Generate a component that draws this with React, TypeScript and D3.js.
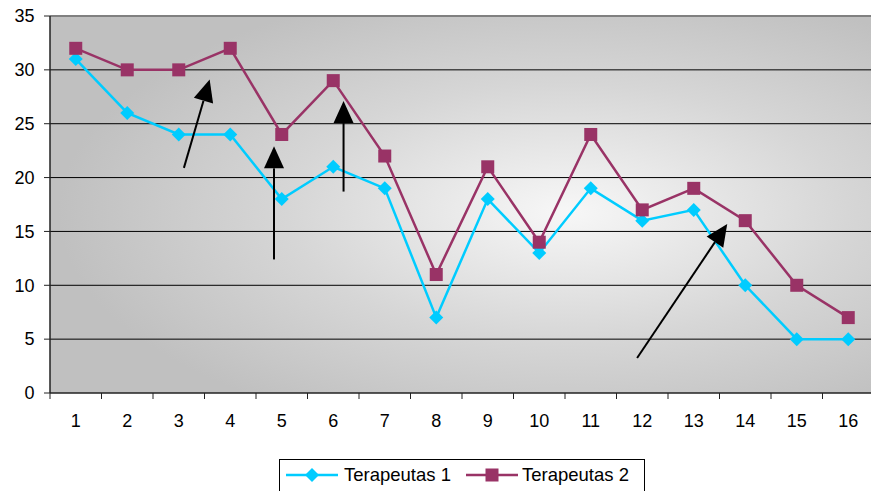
import React from "react";
import * as d3 from "d3";

const categories = ["1","2","3","4","5","6","7","8","9","10","11","12","13","14","15","16"];
const terapeutas1 = [31,26,24,24,18,21,19,7,18,13,19,16,17,10,5,5];
const terapeutas2 = [32,30,30,32,24,29,22,11,21,14,24,17,19,16,10,7];
const yTicks = [0,5,10,15,20,25,30,35];
const seriesNames = ["Terapeutas 1","Terapeutas 2"];
// arrows: [tailCat, tailVal, tipCat, tipVal] in data space (category index fractional, value)
const arrows: [number, number, number, number][] = [
  [2.1, 20.9, 2.6, 29.1],
  [3.85, 12.4, 3.85, 22.9],
  [5.2, 18.7, 5.2, 27.1],
  [10.9, 3.25, 12.65, 15.7],
];

const W = 871, H = 491;
const M = { left: 50, right: 0, top: 16, bottom: 98 };

export default function App() {
  const x = d3.scaleBand<string>().domain(categories).range([M.left, 874]).padding(0);
  const y = d3.scaleLinear().domain([0, 35]).range([H - M.bottom, M.top]);
  const cx = (i: number) => (x(categories[0]) as number) + x.bandwidth() * (i + 0.5);
  const line = d3.line<number>().x((_, i) => cx(i)).y((d) => y(d));
  const font = "Arial, 'Liberation Sans', sans-serif";
  const c1 = "#00ccff", c2 = "#993366";
  const diamond = (px: number, py: number, r: number) =>
    `M${px},${py - r}L${px + r},${py}L${px},${py + r}L${px - r},${py}Z`;

  const arrowEls = arrows.map(([a, b, c, d], k) => {
    const x1 = cx(a), y1 = y(b), x2 = cx(c), y2 = y(d);
    const ang = Math.atan2(y2 - y1, x2 - x1);
    const L = 22, hw = 10;
    const bx = x2 - L * Math.cos(ang), by = y2 - L * Math.sin(ang);
    const px = -Math.sin(ang), py = Math.cos(ang);
    return (
      <g key={k}>
        <line x1={x1} y1={y1} x2={bx} y2={by} stroke="#000" strokeWidth={2} />
        <path d={`M${x2},${y2}L${bx + px * hw},${by + py * hw}L${bx - px * hw},${by - py * hw}Z`} fill="#000" />
      </g>
    );
  });

  const y0 = y(0);
  return (
    <svg width={W} height={H} style={{ position: "absolute", left: 0, top: 0 }}>
      <defs>
        <radialGradient id="bg" cx="0.63" cy="0.52" r="0.62" gradientUnits="objectBoundingBox">
          <stop offset="0" stopColor="#f7f7f7" />
          <stop offset="0.55" stopColor="#d6d6d6" />
          <stop offset="1" stopColor="#c0c0c0" />
        </radialGradient>
      </defs>
      <rect x={M.left} y={M.top} width={W - M.left} height={y0 - M.top} fill="url(#bg)" />
      {yTicks.filter((t) => t > 0 && t < 35).map((t) => (
        <line key={t} x1={M.left} x2={W} y1={y(t)} y2={y(t)} stroke="#000" strokeWidth={1} />
      ))}
      <line x1={M.left} x2={W} y1={M.top} y2={M.top} stroke="#808080" strokeWidth={2} />
      <line x1={M.left} x2={M.left} y1={M.top} y2={y0} stroke="#222" strokeWidth={1.5} />
      <line x1={M.left} x2={W} y1={y0} y2={y0} stroke="#222" strokeWidth={1.5} />
      {yTicks.map((t) => (
        <g key={t}>
          <line x1={44} x2={M.left} y1={y(t)} y2={y(t)} stroke="#222" strokeWidth={1} />
          <text x={34.5} y={y(t)} dy="0.35em" textAnchor="end" fontFamily={font} fontSize={18} fill="#000">{t}</text>
        </g>
      ))}
      {categories.map((c, i) => (
        <g key={c}>
          <line x1={x(c) as number} x2={x(c) as number} y1={y0} y2={y0 + 6} stroke="#222" strokeWidth={1} />
          <text x={cx(i)} y={421} dy="0.35em" textAnchor="middle" fontFamily={font} fontSize={18} fill="#000">{c}</text>
        </g>
      ))}
      <path d={line(terapeutas1) as string} fill="none" stroke={c1} strokeWidth={2.5} />
      {terapeutas1.map((v, i) => (
        <path key={i} d={diamond(cx(i), y(v), 7)} fill={c1} />
      ))}
      <path d={line(terapeutas2) as string} fill="none" stroke={c2} strokeWidth={2.5} />
      {terapeutas2.map((v, i) => (
        <rect key={i} x={cx(i) - 6.5} y={y(v) - 6.5} width={13} height={13} fill={c2} />
      ))}
      {arrowEls}
      <g>
        <rect x={279.5} y={459.5} width={365} height={40} fill="#fff" stroke="#000" strokeWidth={1} />
        <line x1={286} x2={338} y1={475} y2={475} stroke={c1} strokeWidth={2.5} />
        <path d={diamond(312, 475, 7)} fill={c1} />
        <text x={344} y={475} dy="0.35em" fontFamily={font} fontSize={18.5} fill="#000">{seriesNames[0]}</text>
        <line x1={466} x2={518} y1={475} y2={475} stroke={c2} strokeWidth={2.5} />
        <rect x={485.5} y={468.5} width={13} height={13} fill={c2} />
        <text x={522} y={475} dy="0.35em" fontFamily={font} fontSize={18.5} fill="#000">{seriesNames[1]}</text>
      </g>
    </svg>
  );
}
